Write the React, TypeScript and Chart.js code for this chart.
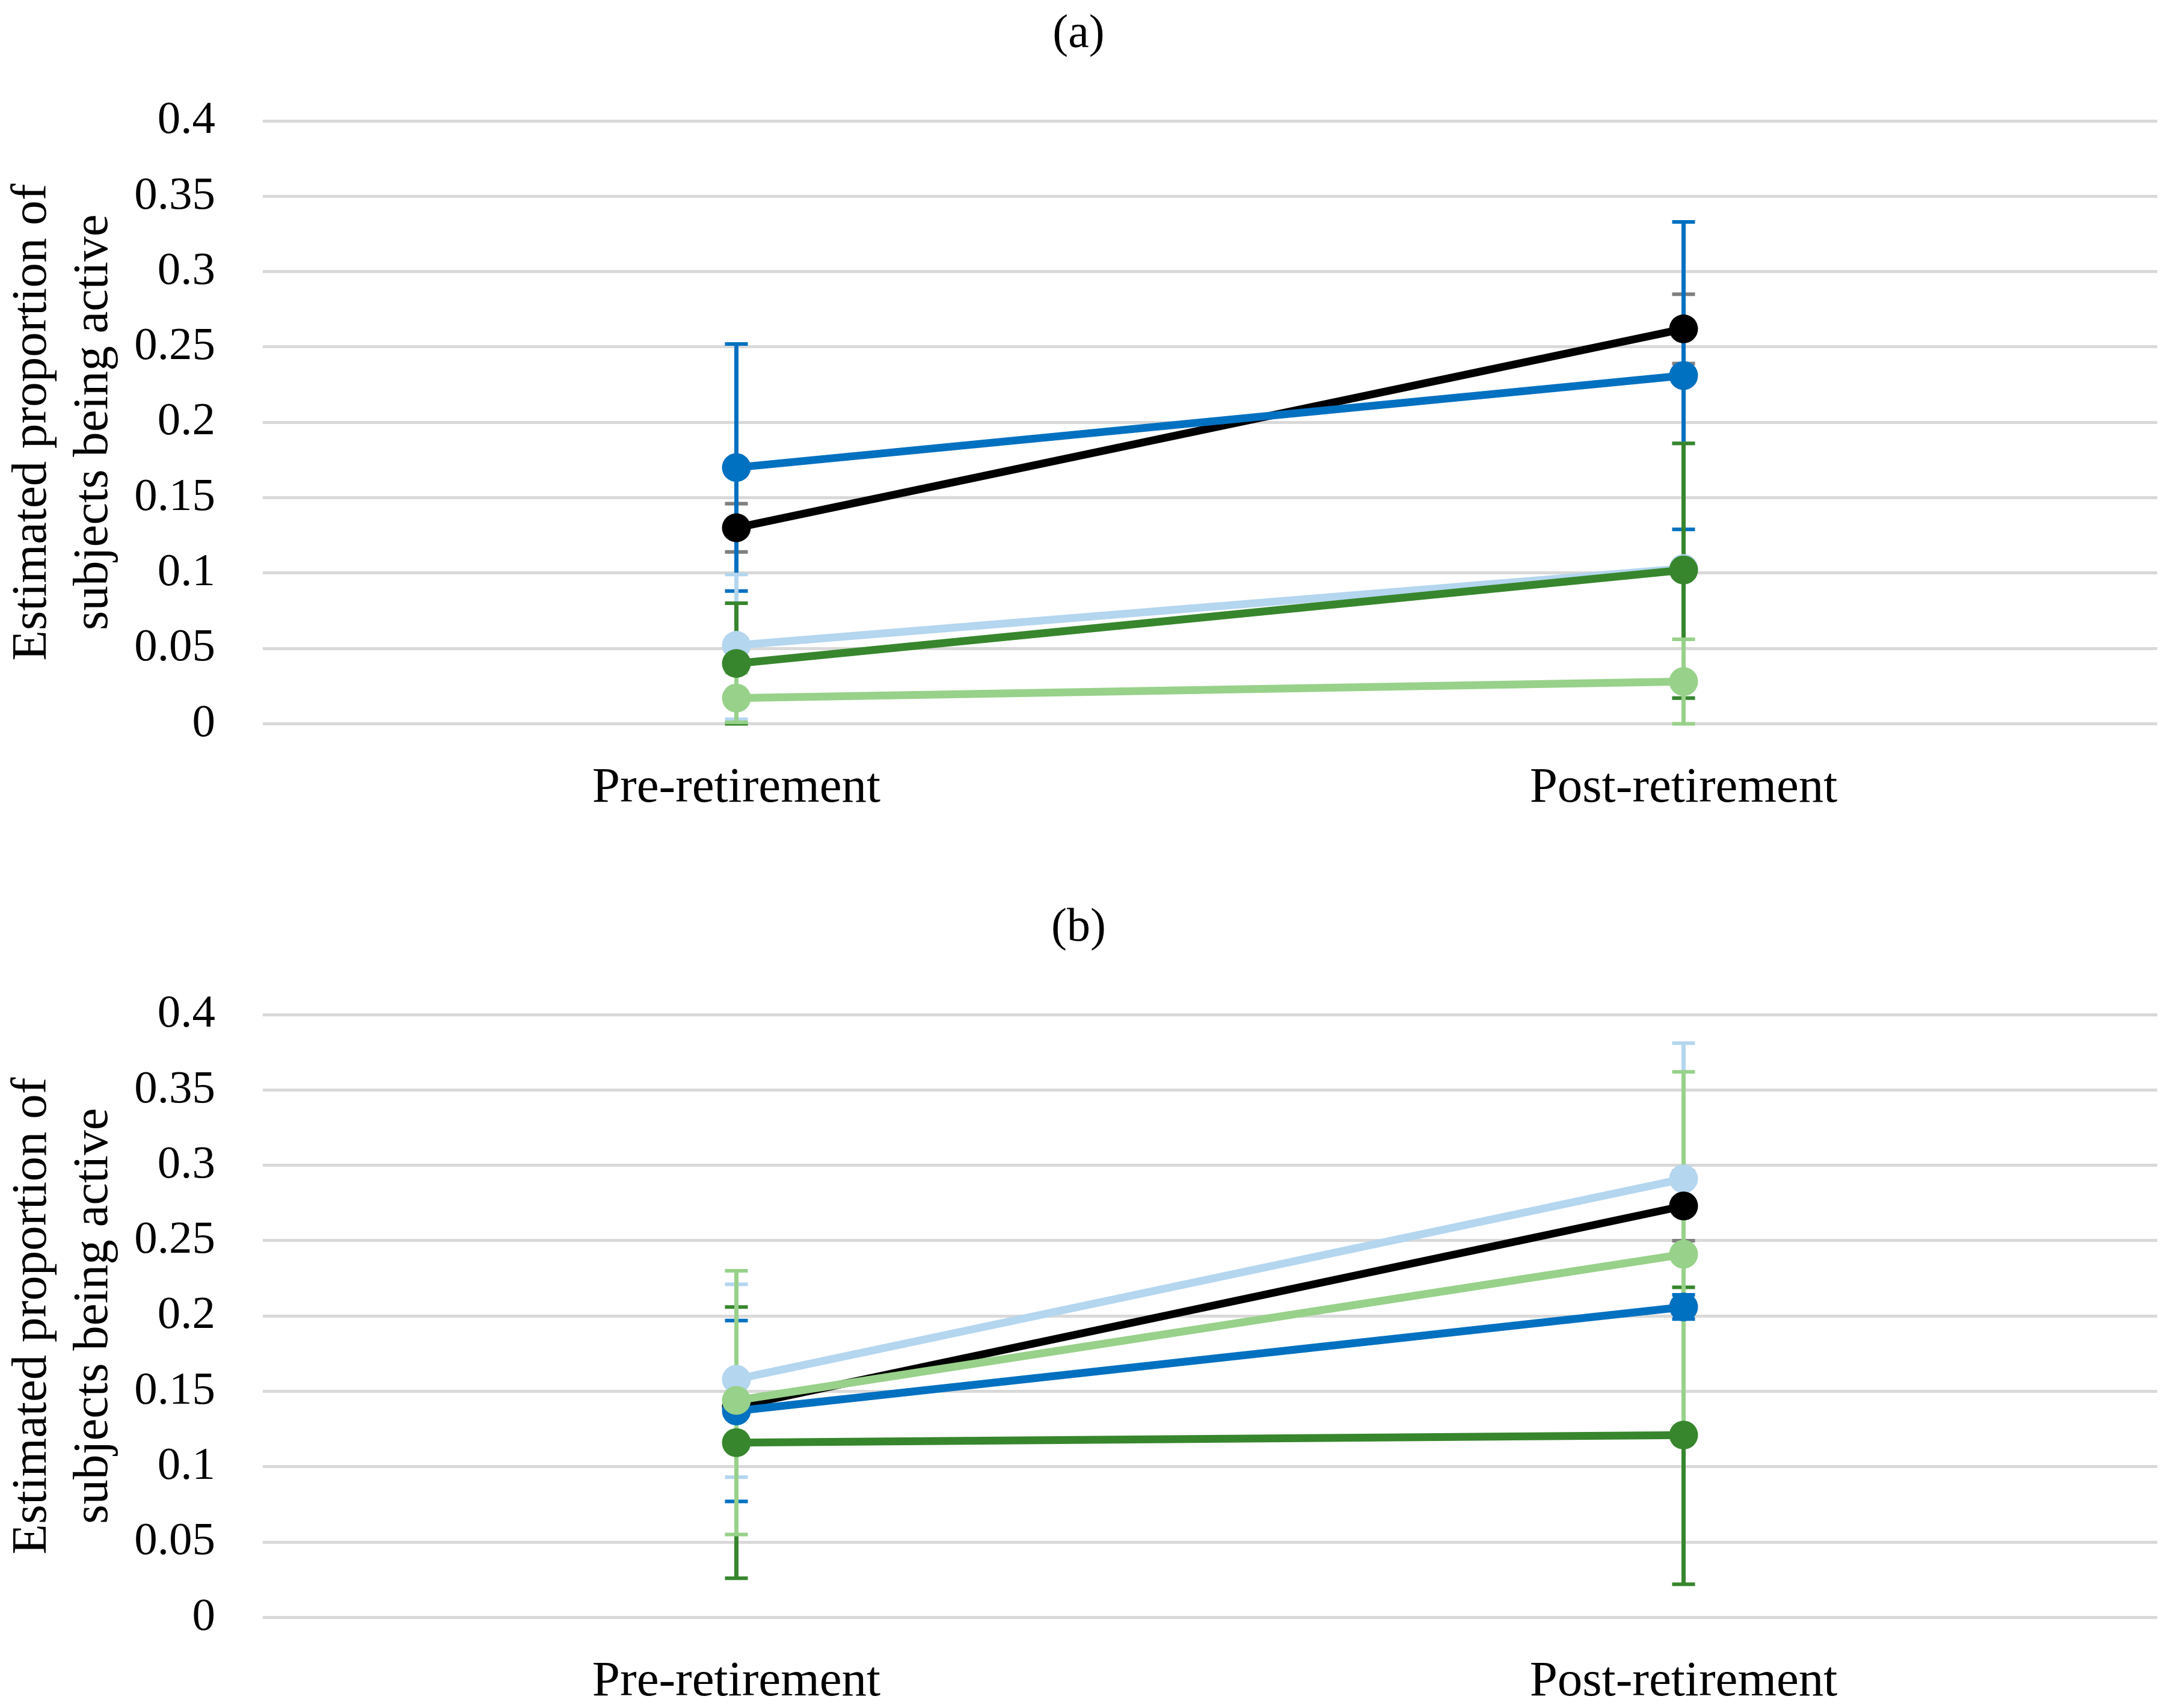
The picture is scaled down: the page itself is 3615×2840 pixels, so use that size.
import React, { useEffect, useRef } from 'react';
import { Chart, registerables } from 'chart.js';
Chart.register(...registerables);

const categories = ['Pre-retirement', 'Post-retirement'];
const yTickLabels = ['0', '0.05', '0.1', '0.15', '0.2', '0.25', '0.3', '0.35', '0.4'];
const yTitle = ['Estimated proportion of', 'subjects being active'];

// Panel (a)
const aBlue = [0.170, 0.231];
const aBlueLo = [0.088, 0.129];
const aBlueHi = [0.252, 0.333];
const aBlack = [0.130, 0.262];
const aBlackLo = [0.114, 0.239];
const aBlackHi = [0.146, 0.285];
const aLightBlue = [0.052, 0.103];
const aLightBlueLo = [0.003, 0.017];
const aLightBlueHi = [0.099, 0.186];
const aGreen = [0.040, 0.102];
const aGreenLo = [0.0, 0.017];
const aGreenHi = [0.080, 0.186];
const aLightGreen = [0.017, 0.028];
const aLightGreenLo = [0.001, 0.0];
const aLightGreenHi = [0.034, 0.056];

// Panel (b)
const bBlue = [0.137, 0.206];
const bBlueLo = [0.077, 0.198];
const bBlueHi = [0.197, 0.214];
const bBlack = [0.140, 0.273];
const bBlackLo = [0.135, 0.250];
const bBlackHi = [0.145, 0.296];
const bLightBlue = [0.158, 0.291];
const bLightBlueLo = [0.093, 0.201];
const bLightBlueHi = [0.221, 0.381];
const bGreen = [0.116, 0.121];
const bGreenLo = [0.026, 0.022];
const bGreenHi = [0.206, 0.219];
const bLightGreen = [0.144, 0.241];
const bLightGreenLo = [0.055, 0.121];
const bLightGreenHi = [0.230, 0.362];

const BLUE = '#0070C0';
const LIGHT_BLUE = '#B4D6EF';
const GREEN = '#37862D';
const LIGHT_GREEN = '#98D18A';
const BLACK = '#000000';
const GRAY = '#7F7F7F';
const FONT = 'Liberation Serif';

const errorBarPlugin = {
  id: 'errorBars',
  beforeDatasetsDraw(chart: any) {
    const ctx = chart.ctx;
    const yScale = chart.scales.y;
    const sets = chart.data.datasets
      .map((ds: any, i: number) => ({ ds, i }))
      .sort((p: any, q: any) => p.ds.errZ - q.ds.errZ);
    ctx.save();
    for (const { ds, i } of sets) {
      const meta = chart.getDatasetMeta(i);
      ds.data.forEach((_: number, j: number) => {
        const pt = meta.data[j];
        if (!pt) return;
        const x = pt.x;
        const yl = yScale.getPixelForValue(ds.errLo[j]);
        const yh = yScale.getPixelForValue(ds.errHi[j]);
        ctx.strokeStyle = ds.errColor;
        ctx.lineCap = 'butt';
        ctx.lineWidth = 7;
        ctx.beginPath();
        ctx.moveTo(x, yl);
        ctx.lineTo(x, yh);
        ctx.stroke();
        ctx.lineWidth = 6;
        ctx.beginPath();
        ctx.moveTo(x - 19, yl);
        ctx.lineTo(x + 19, yl);
        ctx.moveTo(x - 19, yh);
        ctx.lineTo(x + 19, yh);
        ctx.stroke();
      });
    }
    ctx.restore();
  },
};

function makeDs(label: string, data: number[], lo: number[], hi: number[], color: string, errColor: string, order: number, errZ: number) {
  return {
    label,
    data,
    errLo: lo,
    errHi: hi,
    errColor,
    errZ,
    order,
    borderColor: color,
    backgroundColor: color,
    borderWidth: 13,
    pointRadius: 24,
    pointHoverRadius: 24,
    pointBorderWidth: 0,
    pointBackgroundColor: color,
    tension: 0,
    fill: false,
  };
}

function Panel({ title, datasets, top }: { title: string; datasets: any[]; top: number }) {
  const ref = useRef<HTMLCanvasElement>(null);
  useEffect(() => {
    if (!ref.current) return;
    const chart = new Chart(ref.current, {
      type: 'line',
      data: { labels: categories, datasets },
      options: {
        animation: false,
        responsive: false,
        devicePixelRatio: 1,
        layout: { padding: { left: 0, right: 28, top: 0, bottom: 67 } },
        plugins: {
          legend: { display: false },
          tooltip: { enabled: false },
          title: {
            display: true,
            text: title,
            color: '#000',
            font: { family: FONT, size: 78, weight: 'normal', lineHeight: 1.2 },
            padding: { top: 11, bottom: 96.4 },
          },
        },
        scales: {
          x: {
            type: 'category',
            offset: true,
            grid: { display: false, drawTicks: false },
            border: { display: false },
            ticks: {
              color: '#000',
              padding: 58,
              maxRotation: 0,
              font: { family: FONT, size: 83, lineHeight: 1.2 },
            },
          },
          y: {
            min: 0,
            max: 0.4,
            afterFit: (scale: any) => {
              scale.width = 437;
            },
            grid: { color: '#D9D9D9', lineWidth: 5, drawTicks: false },
            border: { display: false },
            ticks: {
              stepSize: 0.05,
              color: '#000',
              padding: 79,
              font: { family: FONT, size: 77, lineHeight: 1.2 },
              callback: (_v: any, i: number) => yTickLabels[i],
            },
            title: {
              display: true,
              text: yTitle,
              color: '#000',
              font: { family: FONT, size: 83, lineHeight: 1.22 },
              padding: { top: 4, bottom: 0 },
            },
          },
        },
      } as any,
      plugins: [errorBarPlugin],
    });
    return () => chart.destroy();
  }, []);
  return (
    <canvas
      ref={ref}
      width={3615}
      height={1486}
      style={{ position: 'absolute', left: 0, top, width: 3615, height: 1486 }}
    />
  );
}

const datasetsA = [
  makeDs('Series light blue', aLightBlue, aLightBlueLo, aLightBlueHi, LIGHT_BLUE, LIGHT_BLUE, 5, 2),
  makeDs('Series black', aBlack, aBlackLo, aBlackHi, BLACK, GRAY, 4, 0),
  makeDs('Series blue', aBlue, aBlueLo, aBlueHi, BLUE, BLUE, 3, 1),
  makeDs('Series green', aGreen, aGreenLo, aGreenHi, GREEN, GREEN, 2, 3),
  makeDs('Series light green', aLightGreen, aLightGreenLo, aLightGreenHi, LIGHT_GREEN, LIGHT_GREEN, 1, 4),
];

const datasetsB = [
  makeDs('Series light blue', bLightBlue, bLightBlueLo, bLightBlueHi, LIGHT_BLUE, LIGHT_BLUE, 5, 2),
  makeDs('Series black', bBlack, bBlackLo, bBlackHi, BLACK, GRAY, 4, 0),
  makeDs('Series blue', bBlue, bBlueLo, bBlueHi, BLUE, BLUE, 3, 1),
  makeDs('Series green', bGreen, bGreenLo, bGreenHi, GREEN, GREEN, 2, 3),
  makeDs('Series light green', bLightGreen, bLightGreenLo, bLightGreenHi, LIGHT_GREEN, LIGHT_GREEN, 1, 4),
];

export default function App() {
  return (
    <div
      style={{
        position: 'absolute',
        left: 0,
        top: 0,
        width: 3615,
        height: 2840,
        overflow: 'hidden',
        background: '#fff',
      }}
    >
      <Panel title="(a)" datasets={datasetsA} top={0} />
      <Panel title="(b)" datasets={datasetsB} top={1486} />
    </div>
  );
}
